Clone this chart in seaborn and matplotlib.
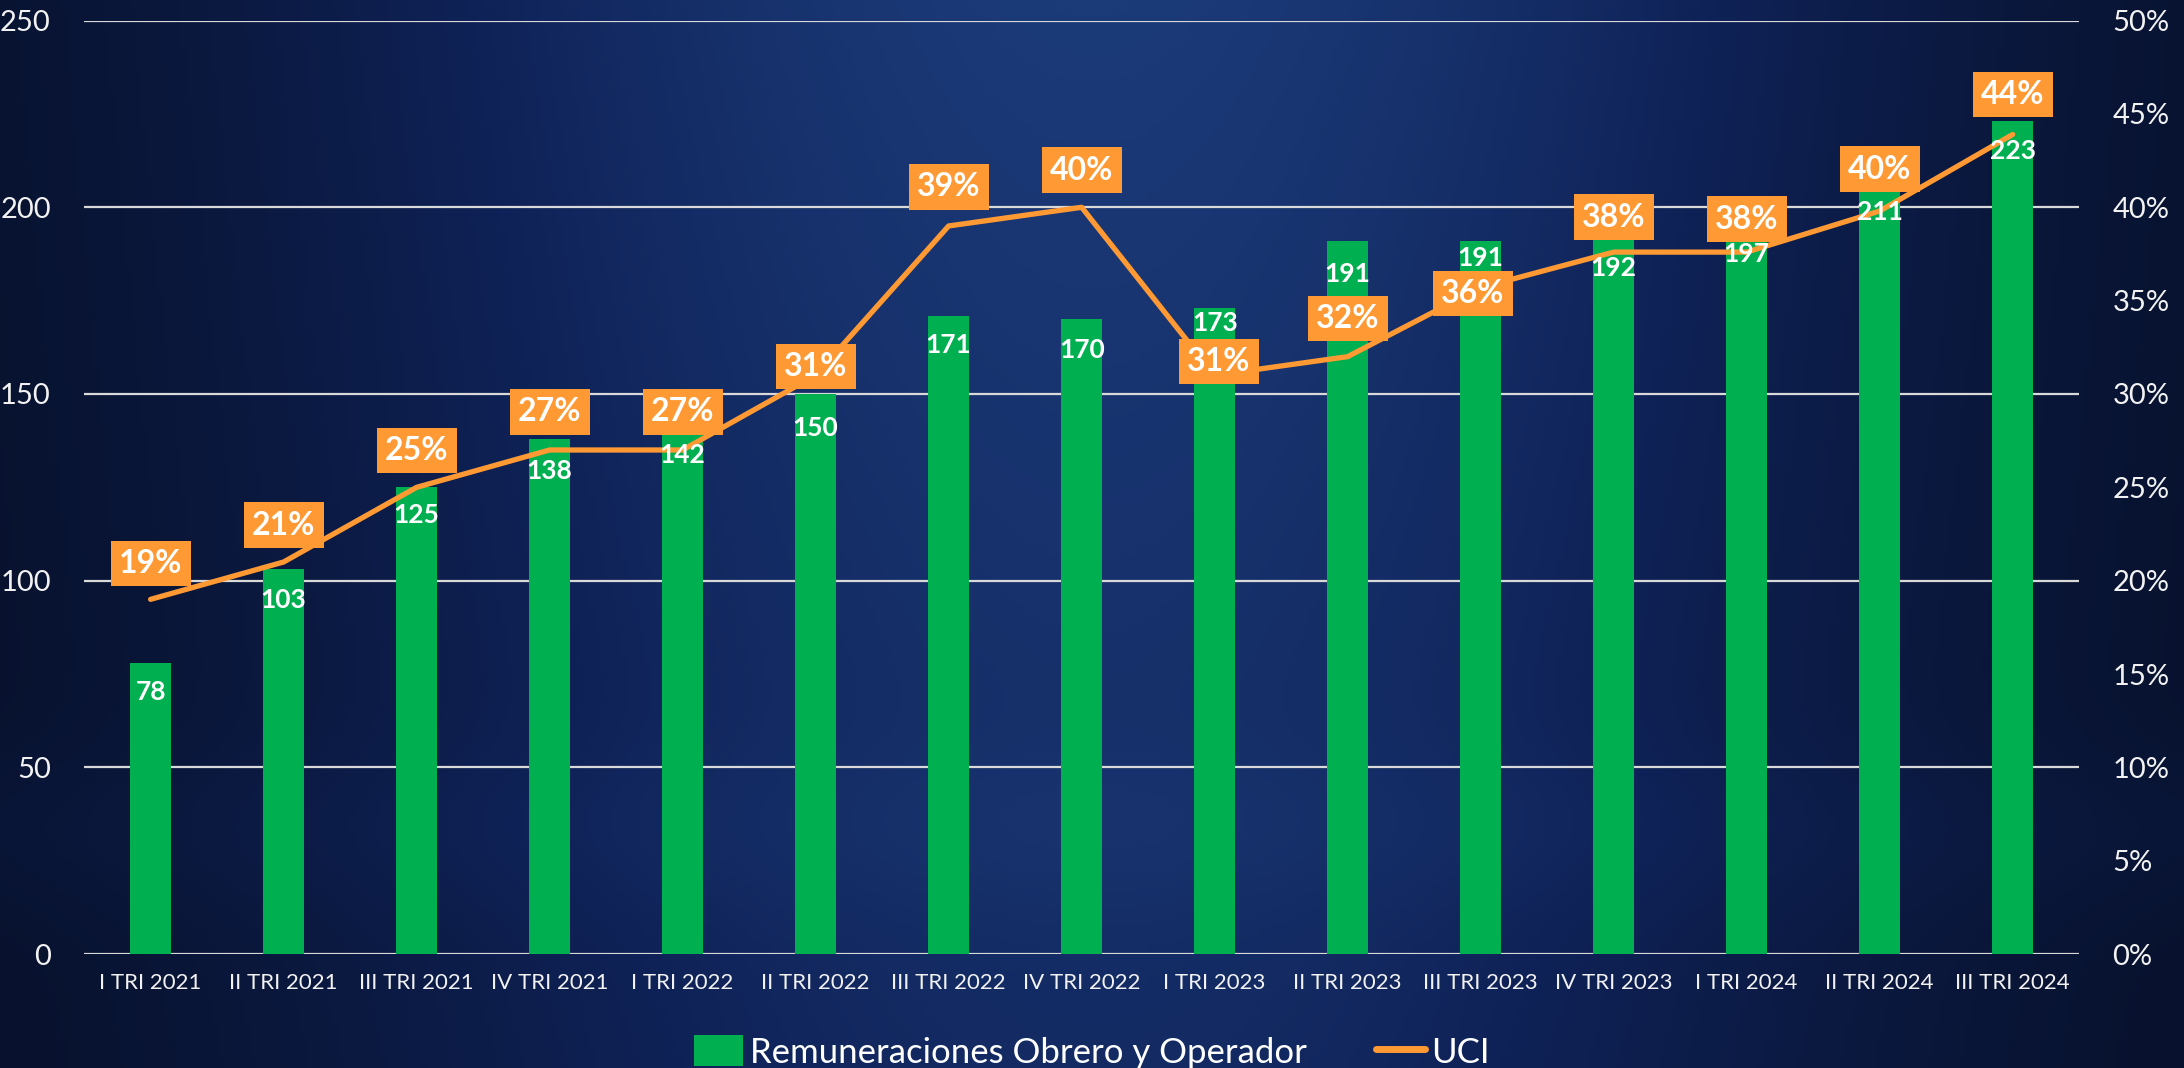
import numpy as np
import pandas as pd
import seaborn as sns
import matplotlib.pyplot as plt
from matplotlib.patches import Patch
from matplotlib.lines import Line2D
from matplotlib.colors import LinearSegmentedColormap

# data
quarters = ["I TRI 2021", "II TRI 2021", "III TRI 2021", "IV TRI 2021",
            "I TRI 2022", "II TRI 2022", "III TRI 2022", "IV TRI 2022",
            "I TRI 2023", "II TRI 2023", "III TRI 2023", "IV TRI 2023",
            "I TRI 2024", "II TRI 2024", "III TRI 2024"]
remuneraciones = [78, 103, 125, 138, 142, 150, 171, 170, 173, 191, 191, 192, 197, 211, 223]
uci = [0.19, 0.21, 0.25, 0.27, 0.27, 0.31, 0.39, 0.40, 0.31, 0.32, 0.357, 0.376, 0.376, 0.398, 0.439]

# label nudges (pixels), as Excel placed them
pct_dx = [0, 0, 0, 0, 0, 0, 0, 0, 4, 0, -8, 0, 0, 0, 0]
pct_dy = [36, 37, 37, 38, 38, 9, 39, 37, 14, 38, -6, 35, 33, 42, 40]
bar_dy = [-29, -31, -28, -32, -31, -34, -29, -31, -15, -33, -17, -31, -36, -46, -30]

green = "#00B050"
orange = "#FF9933"
txt = "#F2F2F2"

sns.set_style("white")
plt.rcParams["font.family"] = ["Lato", "DejaVu Sans"]

fig = plt.figure(figsize=(21.84, 10.68), dpi=100)

# background gradient
bg = fig.add_axes([0, 0, 1, 1], zorder=-10)
xx, yy = np.meshgrid(np.linspace(-1, 1, 400), np.linspace(0, 1, 200))
glow = np.exp(-(xx / 0.75) ** 2) * (0.72 + 0.28 * yy) + 0.08 * np.exp(-((yy - 0.22) / 0.08) ** 2)
cmap = LinearSegmentedColormap.from_list("bgc", ["#08122e", "#0f2257", "#1b3a78"])
bg.imshow(glow, cmap=cmap, aspect="auto", extent=[0, 1, 0, 1], origin="lower")
bg.axis("off")

ax = fig.add_axes([0.0385, 0.1067, 0.9135, 0.874])
ax.patch.set_alpha(0)
df = pd.DataFrame({"q": quarters, "v": remuneraciones})
sns.barplot(data=df, x="q", y="v", color=green, width=0.31, saturation=1, ax=ax,
            zorder=2, edgecolor="none", linewidth=0)
ax.set_ylim(0, 250)
ax.set_yticks(range(0, 251, 50))
ax.yaxis.grid(True, color="#D9D9D9", lw=1.6)
ax.set_axisbelow(True)
ax.set_xlabel("")
ax.set_ylabel("")
for s in ax.spines.values():
    s.set_visible(False)
ax.tick_params(axis="both", length=0, colors=txt)
ax.tick_params(axis="y", labelsize=21, pad=24)
ax.tick_params(axis="x", labelsize=16, pad=14)

ax2 = ax.twinx()
sns.lineplot(x=np.arange(len(uci)), y=uci, color=orange, lw=3.8, ax=ax2, zorder=3)
ax2.set_ylim(0, 0.5)
ax2.set_yticks(np.arange(0, 0.51, 0.05))
ax2.set_yticklabels([f"{int(round(t * 100))}%" for t in np.arange(0, 0.51, 0.05)])
ax2.set_xlim(-0.5, len(quarters) - 0.5)
for s in ax2.spines.values():
    s.set_visible(False)
ax2.tick_params(axis="y", length=0, colors=txt, labelsize=21, pad=24)
ax2.set_ylabel("")

for i, p in enumerate(uci):
    ax2.annotate(f"{round(p * 100):.0f}%", xy=(i, p), xytext=(pct_dx[i], pct_dy[i]),
                 textcoords="offset pixels", ha="center", va="center",
                 color="white", fontsize=23, fontweight="bold", zorder=6,
                 bbox=dict(boxstyle="square,pad=0.26", fc=orange, ec="none"))

for i, v in enumerate(remuneraciones):
    ax2.annotate(str(v), xy=(i, v), xycoords=ax.transData, xytext=(0, bar_dy[i]),
                 textcoords="offset pixels", ha="center", va="center",
                 color="white", fontsize=19, fontweight="bold", zorder=7)

handles = [Patch(facecolor=green, edgecolor="none"),
           Line2D([0], [0], color=orange, lw=5)]
fig.legend(handles, ["Remuneraciones Obrero y Operador", "UCI"], loc="center",
           bbox_to_anchor=(0.5, 0.015), ncol=2, frameon=False, fontsize=25,
           labelcolor="white", handlelength=1.4, handleheight=1.0,
           handletextpad=0.2, columnspacing=2.0)

fig.savefig("out.png", dpi=100)
